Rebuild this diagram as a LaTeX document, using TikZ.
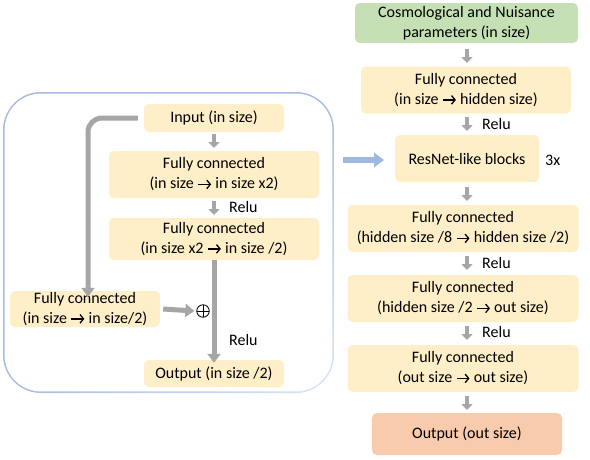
\documentclass[tikz,border=0pt]{standalone}
\usepackage{fontspec}
\setmainfont{Carlito}
\usetikzlibrary{arrows.meta,shadings}
\newcommand{\ar}{\tikz[baseline=-0.6ex]\draw[line width=1.3pt, -{Straight Barb[length=3.5pt,width=8.5pt]}] (0,0) -- (13pt,0);}
\definecolor{boxfill}{HTML}{FFEFC8}
\definecolor{greenfill}{HTML}{C5E0B4}
\definecolor{outfill}{HTML}{F8CBAD}
\definecolor{arrgray}{HTML}{A6A6A6}
\definecolor{frameblue}{HTML}{A6BCE3}
\definecolor{framelight}{HTML}{DCE5F4}
\definecolor{arrblue}{HTML}{9FB8E2}
\tikzset{
  blk/.style={fill=boxfill, rounded corners=5pt, align=center, inner sep=0pt,
    font=\fontsize{16}{20}\selectfont},
  small/.style={draw=arrgray, line width=4pt, -{Triangle[width=11pt,length=6pt]}},
  big/.style={draw=arrgray, line width=5pt, -{Triangle[width=13pt,length=9pt]}},
  lbl/.style={font=\fontsize{16}{18}\selectfont, anchor=west, inner sep=0pt},
  oplus/.style={circle, draw=black, line width=0.8pt, minimum size=12.5pt, inner sep=0pt,
    path picture={\draw[line width=0.8pt] (path picture bounding box.north) -- (path picture bounding box.south)
      (path picture bounding box.west) -- (path picture bounding box.east);}},
}
\begin{document}
\begin{tikzpicture}[x=1pt,y=-1pt]
\useasboundingbox (0,0) rectangle (590,459);
% frame (shaded border)
\shade[upper left=frameblue, upper right=frameblue, lower left=frameblue, lower right=framelight, rounded corners=38pt] (3,92) rectangle (334,393);
\fill[white, rounded corners=36.4pt] (4.6,93.6) rectangle (332.4,391.4);
% right column
\node[blk, fill=greenfill, minimum width=223pt, minimum height=40pt] (cosmo) at (466.5,23) {Cosmological and Nuisance\\parameters (in size)};
\node[blk, minimum width=210pt, minimum height=47pt] (fc1) at (466,90) {Fully connected\\(in size \ar{} hidden size)};
\node[blk, minimum width=144pt, minimum height=47pt] (res) at (467,158.5) {ResNet-like blocks};
\node[blk, minimum width=231pt, minimum height=47pt] (fc3) at (463,228.5) {Fully connected\\(hidden size /8 \ar{} hidden size /2)};
\node[blk, minimum width=231pt, minimum height=47pt] (fc4) at (463,298.5) {Fully connected\\(hidden size /2 \ar{} out size)};
\node[blk, minimum width=231pt, minimum height=47pt] (fc5) at (463,368.5) {Fully connected\\(out size \ar{} out size)};
\node[blk, fill=outfill, minimum width=190pt, minimum height=42pt] (out) at (467,434) {Output (out size)};
\node[lbl] (three) at (545,160) {3x};
\coordinate (c1a) at (467,49); \coordinate (c1b) at (467,63);
\coordinate (c2a) at (467,117); \coordinate (c2b) at (467,131);
\coordinate (c3a) at (467,187); \coordinate (c3b) at (467,201);
\coordinate (c4a) at (467,256); \coordinate (c4b) at (467,270);
\coordinate (c5a) at (467,326); \coordinate (c5b) at (467,340);
\coordinate (c6a) at (467,396); \coordinate (c6b) at (467,410);
\draw[small] (c1a) -- (c1b);
\draw[small] (c2a) -- (c2b);
\draw[small] (c3a) -- (c3b);
\draw[small] (c4a) -- (c4b);
\draw[small] (c5a) -- (c5b);
\draw[small] (c6a) -- (c6b);
\node[lbl] (r1) at (482,124) {Relu};
\node[lbl] (r2) at (482,263) {Relu};
\node[lbl] (r3) at (482,332) {Relu};
% blue arrow
\coordinate (ba) at (343,160); \coordinate (bb) at (384,160);
\draw[arrblue, line width=6pt, -{Triangle[width=14pt,length=10pt]}] (ba) -- (bb);
% left block
\node[blk, minimum width=140pt, minimum height=28pt] (inp) at (214,118) {Input (in size)};
\node[blk, minimum width=210pt, minimum height=47pt] (fca) at (214,174.5) {Fully connected\\(in size \ar{} in size x2)};
\node[blk, minimum width=210pt, minimum height=42pt] (fcb) at (214,239) {Fully connected\\(in size x2 \ar{} in size /2)};
\node[blk, minimum width=140pt, minimum height=27pt] (out2) at (214,373.5) {Output (in size /2)};
\node[blk, minimum width=150pt, minimum height=36pt] (fcc) at (85,309) {Fully connected\\(in size \ar{} in size/2)};
\node[oplus] (plus) at (203,311) {};
\coordinate (s1) at (214,134); \coordinate (s2) at (214,148);
\coordinate (s3) at (214,201); \coordinate (s4) at (214,215);
\draw[small] (s1) -- (s2);
\draw[small] (s3) -- (s4);
\node[lbl] (rl1) at (229,207) {Relu};
\node[lbl] (rl2) at (229,340) {Relu};
\draw[big] (fcb.south) -- ([yshift=-3pt]out2.north);
\draw[big, rounded corners=14pt] ([xshift=-6pt]inp.west) -| ([yshift=-6pt]fcc.north -| 88,0);
\draw[big] ([xshift=3pt]fcc.east) -- ([xshift=-2pt]plus.west);
\end{tikzpicture}
\end{document}
